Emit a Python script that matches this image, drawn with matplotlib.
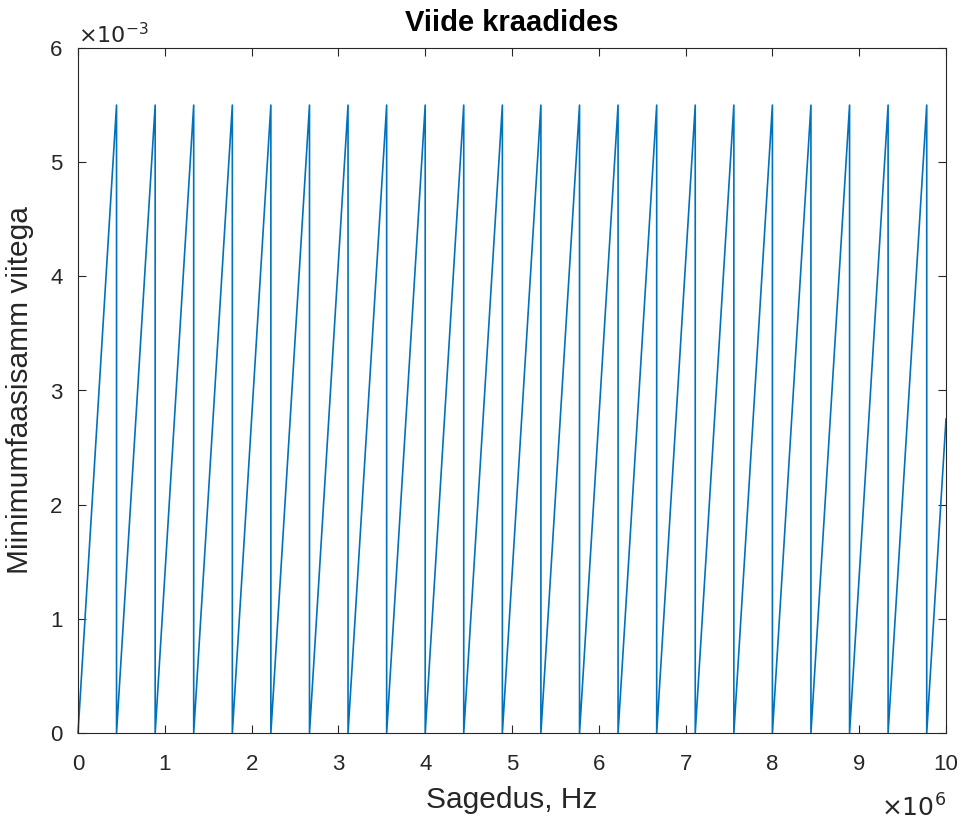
import matplotlib.pyplot as plt
from matplotlib.ticker import FuncFormatter

plt.rcParams['font.family'] = ['Liberation Sans', 'DejaVu Sans']

# sawtooth: peak positions (Hz) and value at peaks
peak_x = [0.444e6, 0.889e6, 1.333e6, 1.778e6, 2.222e6, 2.667e6, 3.111e6, 3.556e6,
          4.000e6, 4.444e6, 4.889e6, 5.333e6, 5.778e6, 6.222e6, 6.667e6, 7.111e6,
          7.556e6, 8.000e6, 8.444e6, 8.889e6, 9.333e6, 9.778e6]
peak_y = 5.5e-3
end_x = 10e6
end_y = 2.75e-3

# build polyline: rise to each peak, drop to zero
xs = [0.0]
ys = [0.0]
for px in peak_x:
    xs += [px, px]
    ys += [peak_y, 0.0]
xs.append(end_x)
ys.append(end_y)

fig = plt.figure(figsize=(9.63, 8.21), dpi=100)
ax = fig.add_axes([78/963, 1 - 733/821, (946-78)/963, (733-48)/821])
ax.plot(xs, ys, color='#0072BD', lw=1.2, clip_on=False)

ax.set_xlim(0, 10e6)
ax.set_ylim(0, 6e-3)
ax.set_xticks([i * 1e6 for i in range(11)])
ax.set_yticks([i * 1e-3 for i in range(7)])
ax.xaxis.set_major_formatter(FuncFormatter(lambda v, p: '%g' % round(v / 1e6, 6)))
ax.yaxis.set_major_formatter(FuncFormatter(lambda v, p: '%g' % round(v / 1e-3, 6)))
ax.tick_params(direction='in', length=6, width=0.8, labelsize=16, colors='#262626',
               top=True, right=True)
ax.tick_params(axis='x', pad=15)
ax.tick_params(axis='y', pad=11)
for s in ax.spines.values():
    s.set_color('#262626')
    s.set_linewidth(0.8)

ax.set_title('Viide kraadides', fontsize=21, fontweight='bold', color='black', pad=12)
ax.set_xlabel('Sagedus, Hz', fontsize=21.5, color='#262626', labelpad=8)
ax.set_ylabel('Miinimumfaasisamm viitega', fontsize=21.5, color='#262626', labelpad=12)

ax.text(0.0, 1.0, r'$\times10^{-3}$', transform=ax.transAxes, fontsize=16,
        color='#262626', ha='left', va='bottom', math_fontfamily='dejavusans')
ax.text(1.0, -0.09, r'$\times10^{6}$', transform=ax.transAxes, fontsize=18,
        color='#262626', ha='right', va='top', math_fontfamily='dejavusans')

fig.savefig('out.png', dpi=100)
